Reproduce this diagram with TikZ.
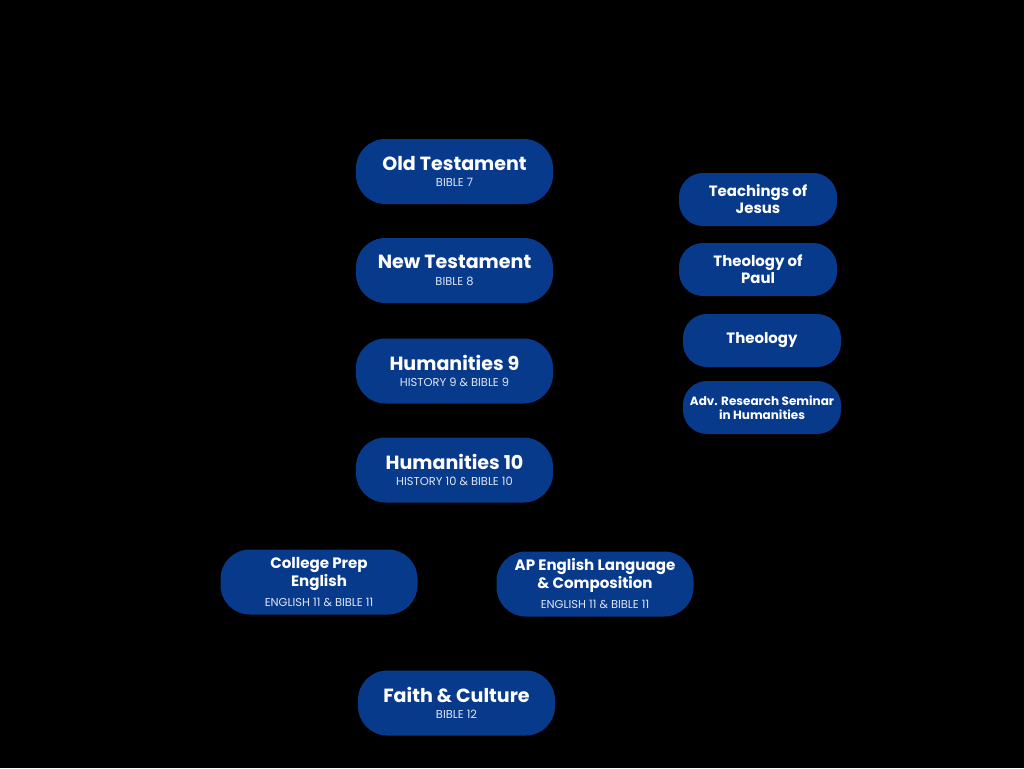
\documentclass[tikz,border=0pt]{standalone}
\usepackage{fontspec}
\setmainfont{Poppins}
\definecolor{navy}{RGB}{8,58,140}
\definecolor{paleblue}{RGB}{222,230,245}
\begin{document}
\begin{tikzpicture}[
  x=0.75pt, y=-0.75pt,
  course/.style={rectangle, rounded corners=22pt, fill=navy, minimum width=147.75pt, minimum height=48.75pt, inner sep=0pt, text=white, align=center, font=\bfseries\fontsize{14.3}{17}\selectfont},
  english/.style={course, font=\bfseries\fontsize{11.3}{13.5}\selectfont},
  elective/.style={rectangle, rounded corners=18pt, fill=navy, minimum width=118.5pt, minimum height=39.75pt, inner sep=0pt, text=white, align=center, font=\bfseries\fontsize{11.2}{12.75}\selectfont},
  link/.style={black, line width=1.2pt}
]
  \fill[black] (0,0) rectangle (1024,768);
  \useasboundingbox (0,0) rectangle (1024,768);

  % core sequence
  \node[course] (ot)    at (454.5,171.5) {Old Testament\\[-4.5pt]{\mdseries\fontsize{8.6}{10}\selectfont\color{paleblue}BIBLE 7}};
  \node[course] (nt)    at (454.5,270.5) {New Testament\\[-4.5pt]{\mdseries\fontsize{8.6}{10}\selectfont\color{paleblue}BIBLE 8}};
  \node[course] (hum9)  at (454.5,371)   {Humanities 9\\[-4.5pt]{\mdseries\fontsize{8.6}{10}\selectfont\color{paleblue}HISTORY 9 \& BIBLE 9}};
  \node[course] (hum10) at (454.5,470)   {Humanities 10\\[-4.5pt]{\mdseries\fontsize{8.6}{10}\selectfont\color{paleblue}HISTORY 10 \& BIBLE 10}};

  \node[english] (cpe) at (319,582)   {College Prep\\English\\[1.5pt]{\mdseries\fontsize{8.6}{10}\selectfont\color{paleblue}ENGLISH 11 \& BIBLE 11}};
  \node[english] (ape) at (595,584)   {AP English Language\\\& Composition\\[1.5pt]{\mdseries\fontsize{8.6}{10}\selectfont\color{paleblue}ENGLISH 11 \& BIBLE 11}};

  \node[course] (faith) at (456.5,703) {Faith \& Culture\\[-4.5pt]{\mdseries\fontsize{8.6}{10}\selectfont\color{paleblue}BIBLE 12}};

  % electives
  \node[elective] (jesus) at (758,199.5) {Teachings of\\Jesus};
  \node[elective] (paul)  at (758,269.5) {Theology of\\Paul};
  \node[elective] (theo)  at (762,340.5) {Theology};
  \node[elective, font=\bfseries\fontsize{9}{10.5}\selectfont] (arsh) at (762,407.5) {Adv. Research Seminar\\in Humanities};

  \coordinate (split) at (454.5,526);
  \coordinate (join)  at (456.5,659);

  \draw[link] (ot) -- (nt);
  \draw[link] (nt) -- (hum9);
  \draw[link] (hum9) -- (hum10);
  \draw[link] (hum10) -- (split);
  \draw[link] (split) -| (cpe);
  \draw[link] (split) -| (ape);
  \draw[link] (cpe) |- (join);
  \draw[link] (ape) |- (join);
  \draw[link] (join) -- (faith);
\end{tikzpicture}
\end{document}
